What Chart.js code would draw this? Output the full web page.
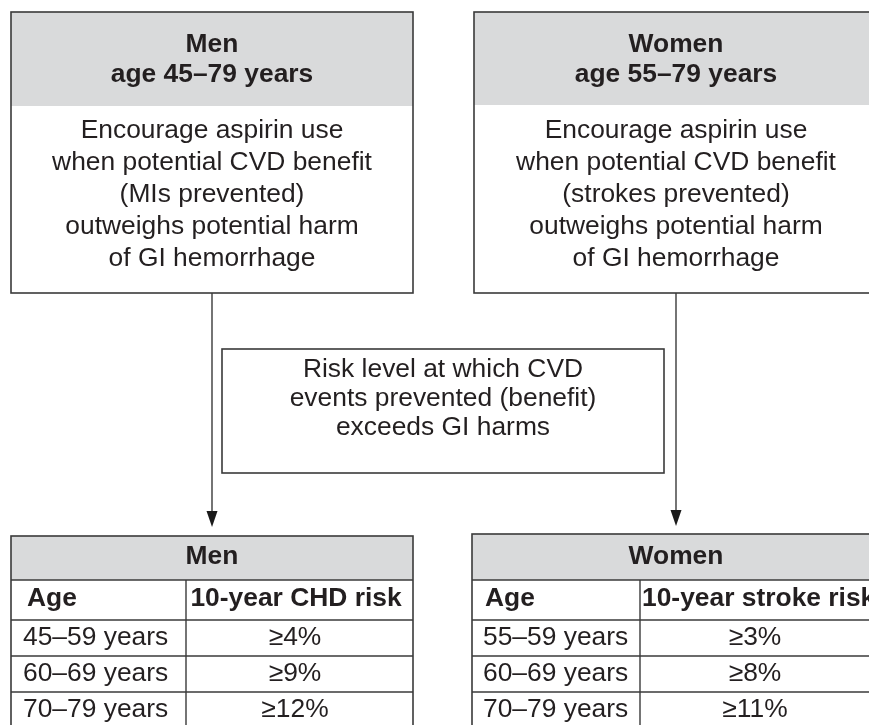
<!DOCTYPE html>
<html>
<head>
<meta charset="utf-8">
<script src="https://cdn.jsdelivr.net/npm/chart.js@4/dist/chart.umd.min.js"></script>
<style>
  html, body { margin: 0; padding: 0; background: #fff; }
  #wrap { width: 869px; height: 725px; }
</style>
</head>
<body>
<div id="wrap"><canvas id="flow" width="869" height="725"></canvas></div>
<script>
// Textes des boites
const menTitle = ['Men', 'age 45\u201379 years'];
const womenTitle = ['Women', 'age 55\u201379 years'];
const menAdvice = ['Encourage aspirin use', 'when potential CVD benefit', '(MIs prevented)', 'outweighs potential harm', 'of GI hemorrhage'];
const womenAdvice = ['Encourage aspirin use', 'when potential CVD benefit', '(strokes prevented)', 'outweighs potential harm', 'of GI hemorrhage'];
const middleText = ['Risk level at which CVD', 'events prevented (benefit)', 'exceeds GI harms'];

// Tableaux de seuils
const tableHeaders = ['Age'];
const menRiskLabel = '10-year CHD risk';
const womenRiskLabel = '10-year stroke risk';
const menAges = ['45\u201359 years', '60\u201369 years', '70\u201379 years'];
const menThresholds = ['\u22654%', '\u22659%', '\u226512%'];
const womenAges = ['55\u201359 years', '60\u201369 years', '70\u201379 years'];
const womenThresholds = ['\u22653%', '\u22658%', '\u226511%'];

const FONT = '"Liberation Sans", Arial, Helvetica, sans-serif';
const INK = '#231f20';
const LINE = '#3a3a3a';
const GRAY = '#d9dadb';

// Plugin qui dessine le schema avec les echelles du graphique
const flowPlugin = {
    id: 'flow',
    afterDraw(chart) {
        const ctx = chart.ctx;
        const sx = chart.scales.x, sy = chart.scales.y;
        const X = v => sx.getPixelForValue(v);
        const Y = v => sy.getPixelForValue(v);

        function rect(x0, y0, x1, y1, fill) {
            ctx.fillStyle = fill;
            ctx.fillRect(X(x0), Y(y0), X(x1) - X(x0), Y(y1) - Y(y0));
        }
        function stroke(x0, y0, x1, y1) {
            ctx.strokeStyle = LINE;
            ctx.lineWidth = 1.6;
            ctx.strokeRect(X(x0), Y(y0), X(x1) - X(x0), Y(y1) - Y(y0));
        }
        function line(x0, y0, x1, y1, w) {
            ctx.strokeStyle = LINE;
            ctx.lineWidth = w || 1.4;
            ctx.beginPath();
            ctx.moveTo(X(x0), Y(y0));
            ctx.lineTo(X(x1), Y(y1));
            ctx.stroke();
        }
        function text(str, x, y, size, bold, align) {
            ctx.fillStyle = INK;
            ctx.font = (bold ? 'bold ' : '') + size + 'px ' + FONT;
            ctx.textAlign = align || 'center';
            ctx.textBaseline = 'middle';
            ctx.fillText(str, X(x), Y(y));
        }
        function arrow(x, y0, y1) {
            line(x, y0, x, y1 - 14, 1.4);
            ctx.fillStyle = '#1a1a1a';
            ctx.beginPath();
            ctx.moveTo(X(x - 5.5), Y(y1 - 16));
            ctx.lineTo(X(x + 5.5), Y(y1 - 16));
            ctx.lineTo(X(x), Y(y1));
            ctx.closePath();
            ctx.fill();
        }

        const FS = 26.4;
        ctx.save();

        // Boites du haut
        rect(11, 12, 413, 106, GRAY);
        stroke(11, 12, 413, 293);
        menTitle.forEach((t, i) => text(t, 212, 45 + i * 30, FS, true));
        menAdvice.forEach((t, i) => text(t, 212, 131 + i * 32, FS, false));

        rect(474, 12, 880, 105, GRAY);
        stroke(474, 12, 880, 293);
        womenTitle.forEach((t, i) => text(t, 676, 45 + i * 30, FS, true));
        womenAdvice.forEach((t, i) => text(t, 676, 131 + i * 32, FS, false));

        // Fleches
        arrow(212, 293, 527);
        arrow(676, 293, 526);

        // Boite centrale
        stroke(222, 349, 664, 473);
        middleText.forEach((t, i) => text(t, 443, 370 + i * 29, FS, false));

        // Tableau hommes
        rect(11, 536, 413, 580, GRAY);
        stroke(11, 536, 413, 760);
        line(11, 580, 413, 580);
        line(186, 580, 186, 760);
        [620, 656, 692].forEach(yy => line(11, yy, 413, yy));
        text('Men', 212, 557, FS, true);
        text(tableHeaders[0], 27, 599, FS, true, 'left');
        text(menRiskLabel, 296, 599, FS, true);
        menAges.forEach((t, i) => text(t, 23, 638 + i * 36, FS, false, 'left'));
        menThresholds.forEach((t, i) => text(t, 295, 638 + i * 36, FS, false));

        // Tableau femmes
        rect(472, 534, 880, 580, GRAY);
        stroke(472, 534, 880, 760);
        line(472, 580, 880, 580);
        line(640, 580, 640, 760);
        [620, 656, 692].forEach(yy => line(472, yy, 880, yy));
        text('Women', 676, 557, FS, true);
        text(tableHeaders[0], 485, 599, FS, true, 'left');
        text(womenRiskLabel, 642, 599, FS, true, 'left');
        womenAges.forEach((t, i) => text(t, 483, 638 + i * 36, FS, false, 'left'));
        womenThresholds.forEach((t, i) => text(t, 755, 638 + i * 36, FS, false));

        ctx.restore();
    }
};

new Chart(document.getElementById('flow').getContext('2d'), {
    type: 'scatter',
    data: { datasets: [{ data: [] }] },
    options: {
        responsive: false,
        animation: false,
        devicePixelRatio: 1,
        layout: { padding: 0 },
        plugins: { legend: { display: false }, tooltip: { enabled: false } },
        scales: {
            x: { type: 'linear', min: 0, max: 869, display: false },
            y: { type: 'linear', min: 0, max: 725, reverse: true, display: false }
        }
    },
    plugins: [flowPlugin]
});
</script>
</body>
</html>
